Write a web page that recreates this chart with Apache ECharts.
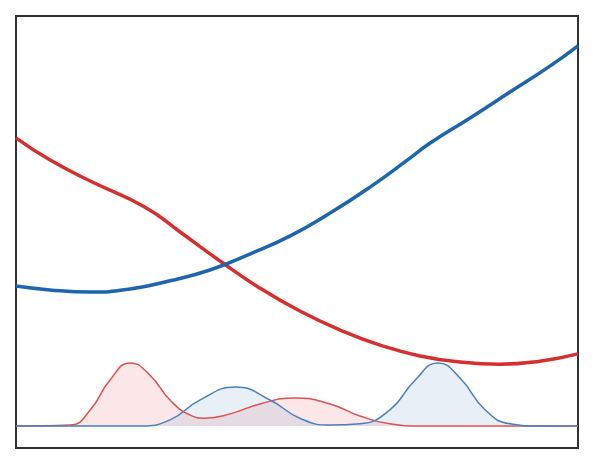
<!DOCTYPE html><html><head><meta charset="utf-8">
<script src="https://cdn.jsdelivr.net/npm/echarts@6/dist/echarts.min.js"></script>
<style>html,body{margin:0;background:#fff}#c{width:596px;height:468px}</style></head><body><div id="c"></div>
<script>
const blueLine=[[0,37.5],[6,36.6],[13.2,36.1],[20.3,36.8],[27.4,38.7],[34.5,41.2],[41.6,44.9],[48.8,49.1],[55.9,54.4],[63,60.4],[70.1,67.1],[73.7,70.6],[80.8,76.4],[87.9,82.4],[95,88.4],[100,93.1]];
const redLine=[[0,71.8],[6,66.7],[13.2,61.8],[22.9,55.8],[29.2,50],[36.3,43.3],[43.4,37],[50.5,31.7],[57.7,27.3],[64.8,23.8],[71.9,21.3],[79,19.9],[86.1,19.4],[93.2,20.1],[100,21.8]];
const redDensity=[[0,5.1],[9.6,5.3],[13.2,8.8],[16.7,15.7],[20.3,19.7],[23.8,16.9],[27.4,11.1],[31,7.6],[33.6,6.9],[38.1,7.9],[43.4,10.2],[49.6,11.6],[55.9,10.2],[61.2,7.4],[66.5,5.6],[71.9,5.1],[100,5.1]];
const blueDensity=[[0,5.1],[22.1,5.1],[27.4,6.5],[32.7,11.1],[39.1,14.1],[45.2,11.1],[50.5,6.9],[55.9,5.3],[61.2,5.6],[66.5,8.8],[71,15.7],[75.1,19.7],[79,16.2],[83.5,8.8],[87.9,5.6],[93.2,5.1],[100,5.1]];
const baseline=5.1;
const ch=echarts.init(document.getElementById('c'));
ch.setOption({animation:false,
grid:{left:16,right:18,top:16,bottom:20,show:true,borderColor:'#333',borderWidth:2},
xAxis:{type:'value',min:0,max:100,show:false},
yAxis:{type:'value',min:0,max:100,show:false},
series:[
{type:'line',data:redDensity,smooth:0.5,symbol:'none',lineStyle:{color:'#e05050',width:1.5},areaStyle:{color:'rgba(235,140,140,0.3)',origin:baseline}},
{type:'line',data:blueDensity,smooth:0.5,symbol:'none',lineStyle:{color:'#4a7fc0',width:1.5},areaStyle:{color:'rgba(110,150,200,0.22)',origin:baseline}},
{type:'line',data:redLine,smooth:0.5,symbol:'none',lineStyle:{color:'#d62f2f',width:3.5}},
{type:'line',data:blueLine,smooth:0.5,symbol:'none',lineStyle:{color:'#1f65ad',width:3.5}}
]});
</script></body></html>
